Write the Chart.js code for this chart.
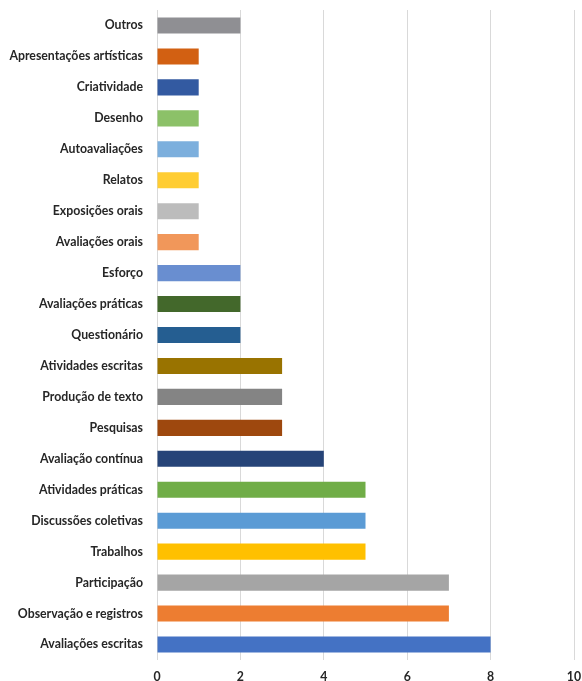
<!DOCTYPE html>
<html>
<head>
<meta charset="utf-8">
<script src="https://cdn.jsdelivr.net/npm/chart.js@4"></script>
<style>
  html, body { margin: 0; padding: 0; background: #fff; }
  #wrap { width: 582px; height: 681px; }
</style>
</head>
<body>
<div id="wrap"><canvas id="grafico"></canvas></div>
<script>
const categorias = ['Outros', 'Apresentações artísticas', 'Criatividade', 'Desenho', 'Autoavaliações',
    'Relatos', 'Exposições orais', 'Avaliações orais', 'Esforço', 'Avaliações práticas',
    'Questionário', 'Atividades escritas', 'Produção de texto', 'Pesquisas', 'Avaliação contínua',
    'Atividades práticas', 'Discussões coletivas', 'Trabalhos', 'Participação',
    'Observação e registros', 'Avaliações escritas'];
const valores = [2, 1, 1, 1, 1, 1, 1, 1, 2, 2, 2, 3, 3, 3, 4, 5, 5, 5, 7, 7, 8];
const cores = ['#8f8f93', '#d26012', '#335aa1', '#8cc168', '#7cafdd', '#ffcd33', '#bcbcbc', '#f1975a',
    '#698ed0', '#43682b', '#255e91', '#997300', '#848484', '#9e480e', '#264478',
    '#70ad47', '#5b9bd5', '#ffc000', '#a5a5a5', '#ed7d31', '#4472c4'];
const ticksX = [0, 2, 4, 6, 8, 10];

const fonte = { family: 'Lato, "Open Sans", sans-serif', size: 12.3, weight: 'bold' };

// sem padding automático das escalas, para fixar a área do gráfico
function semPadding(axis) {
    axis.paddingTop = 0;
    axis.paddingBottom = 0;
    axis.paddingLeft = 0;
    axis.paddingRight = 0;
}

new Chart(document.getElementById('grafico'), {
    type: 'bar',
    data: {
        labels: categorias,
        datasets: [{
            data: valores,
            backgroundColor: cores,
            borderWidth: 0,
            barPercentage: 0.52,
            categoryPercentage: 1
        }]
    },
    options: {
        indexAxis: 'y',
        responsive: true,
        maintainAspectRatio: false,
        animation: false,
        layout: { autoPadding: false, padding: { top: 10, right: 8, bottom: 0, left: 0 } },
        plugins: { legend: { display: false }, tooltip: { enabled: false } },
        scales: {
            x: {
                min: 0,
                max: 10,
                afterBuildTicks: (axis) => { axis.ticks = ticksX.map(v => ({ value: v })); },
                afterFit: (axis) => { axis.height = 21; semPadding(axis); },
                grid: { color: '#d9d9d9', lineWidth: 1, drawTicks: false },
                border: { display: false },
                ticks: { color: '#262626', font: fonte, padding: 10 }
            },
            y: {
                afterFit: (axis) => { axis.width = 157; semPadding(axis); },
                grid: { display: false, drawTicks: false },
                border: { display: false },
                ticks: { color: '#262626', font: fonte, padding: 14, autoSkip: false }
            }
        }
    }
});
</script>
</body>
</html>
